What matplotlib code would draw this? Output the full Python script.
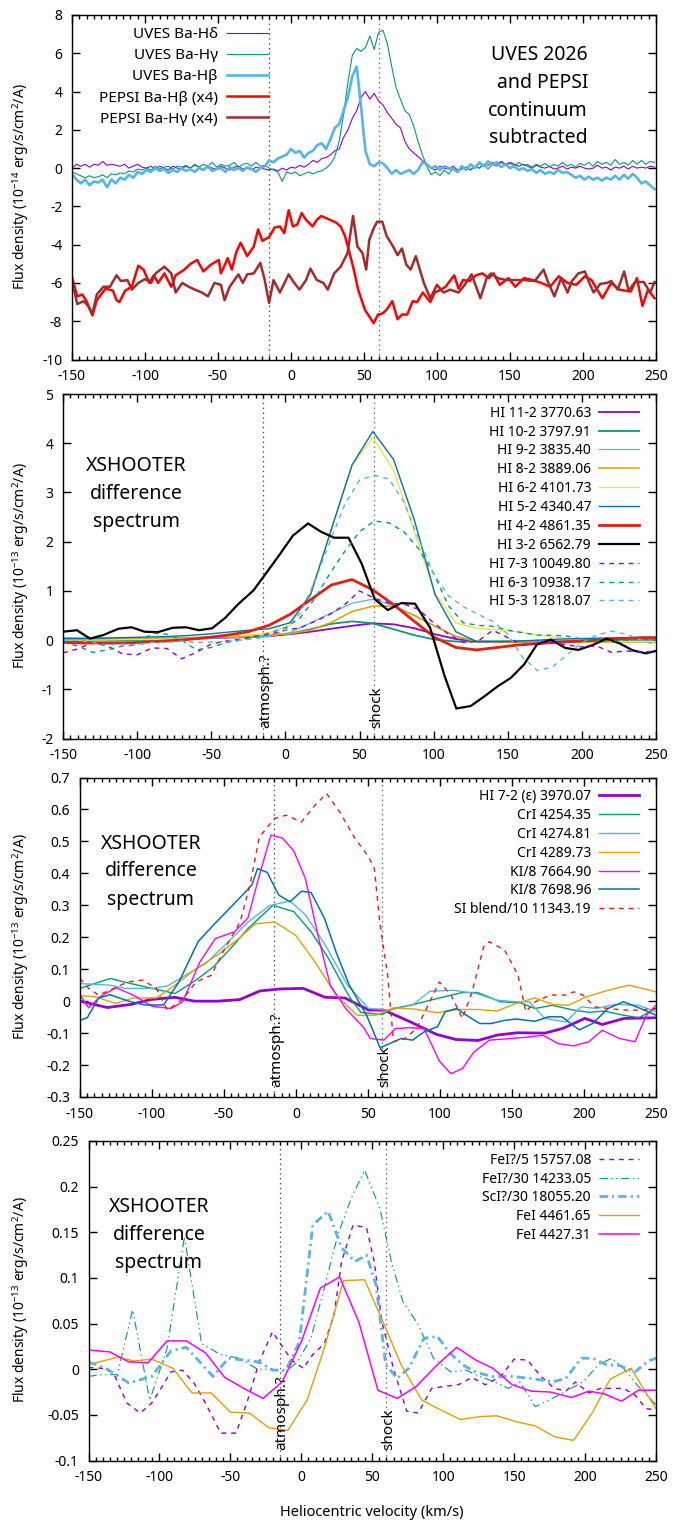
import numpy as np
import matplotlib
matplotlib.use('Agg')
import matplotlib.pyplot as plt
from matplotlib.lines import Line2D
from matplotlib.ticker import MultipleLocator, FuncFormatter

# ---------------- DATA ----------------
# Panel 1: UVES (3 km/s grid starting at -150) and PEPSI
UVES_V0, UVES_DV = -150, 3
UVES_HD = [0.0, 0.2, 0.1, 0.2, 0.05, 0.2, 0.15, 0.35, 0.15, 0.2,
           0.15, 0.1, 0.2, 0.0, 0.1, 0.2, 0.05, 0.0, 0.1, -0.05,
           0.1, 0.0, -0.1, 0.1, 0.0, -0.05, 0.1, 0.0, 0.15, 0.05,
           -0.1, 0.1, 0.0, -0.05, 0.1, 0.0, -0.1, 0.05, 0.1, -0.05,
           0.0, -0.1, 0.05, 0.0, -0.05, -0.1, -0.05, -0.15, 0.0, -0.1,
           0.05, 0.0, 0.15, 0.05, 0.2, 0.4, 0.3, 0.5, 0.55, 0.7,
           0.9, 1.0, 1.6, 2.0, 2.6, 3.0, 3.7, 4.0, 3.6, 3.9,
           3.5, 3.3, 2.9, 2.6, 2.3, 2.1, 1.4, 1.0, 0.8, 0.6,
           0.4, 0.2, 0.0, -0.1, 0.1, 0.0, -0.05, 0.1, -0.1, 0.0,
           0.05, -0.1, 0.1, 0.0, 0.2, 0.15, 0.3, 0.2, 0.35, 0.2,
           0.3, 0.2, 0.1, 0.2, 0.1, 0.0, 0.15, 0.05, 0.0, 0.1,
           -0.05, 0.0, 0.1, -0.05, 0.05, 0.0, 0.1, 0.0, -0.05, 0.0,
           0.15, 0.0, 0.05, -0.1, 0.05, 0.0, 0.1, -0.05, 0.1, 0.0,
           0.05, 0.0, 0.1, 0.05]
UVES_HG = [-0.2, -0.3, -0.4, -0.5, -0.4, -0.5, -0.45, -0.35, -0.5, -0.3,
           -0.35, -0.25, -0.3, -0.15, -0.2, -0.05, -0.1, 0.0, -0.1, 0.1,
           -0.05, 0.05, 0.1, -0.05, 0.1, 0.05, 0.15, 0.0, 0.2, 0.05,
           0.2, 0.1, 0.3, 0.05, 0.2, 0.1, 0.15, 0.3, 0.05, 0.2,
           0.25, 0.1, 0.3, 0.1, 0.15, 0.0, -0.1, -0.2, -0.7, -0.2,
           -0.3, -0.2, -0.4, -0.3, -0.2, -0.3, -0.2, -0.15, 0.0, 0.2,
           0.6, 1.4, 2.8, 4.5, 5.9, 6.25, 6.1, 6.3, 6.9, 6.2,
           7.1, 7.2, 6.5, 5.3, 4.2, 3.6, 3.0, 2.8, 2.2, 1.4,
           0.7, 0.1, -0.35, -0.2, -0.4, -0.1, -0.3, 0.0, -0.2, -0.05,
           0.05, -0.1, 0.1, 0.0, 0.2, -0.05, 0.2, 0.1, 0.3, 0.15,
           0.25, 0.1, 0.3, 0.15, 0.2, 0.05, 0.2, 0.1, 0.25, 0.05,
           0.2, 0.1, 0.3, 0.1, 0.2, 0.05, 0.25, 0.15, 0.3, 0.1,
           0.35, 0.2, 0.3, 0.15, 0.45, 0.2, 0.3, 0.15, 0.4, 0.2,
           0.4, 0.2, 0.35, 0.3]
UVES_HB = [-0.3, -0.6, -0.8, -0.6, -0.9, -0.7, -0.75, -0.6, -1.0, -0.6,
           -0.8, -0.5, -0.6, -0.35, -0.5, -0.2, -0.3, -0.1, -0.2, 0.0,
           -0.15, -0.05, -0.25, -0.1, -0.2, 0.0, -0.15, -0.05, -0.2, 0.0,
           -0.1, 0.1, -0.15, -0.05, 0.0, -0.2, 0.05, -0.1, 0.0, -0.15,
           0.05, -0.05, -0.2, 0.0, 0.1, 0.4, 0.3, 0.5, 0.6, 0.7,
           1.0, 0.8, 0.9, 0.55, 0.8, 0.9, 1.2, 1.3, 1.0, 1.5,
           2.1, 2.3, 3.0, 3.7, 4.8, 5.3, 3.2, 0.9, 0.2, 0.1,
           0.3, 0.25, 0.0, -0.3, -0.1, -0.3, -0.2, -0.1, -0.3, -0.1,
           0.3, 0.2, 0.0, 0.1, -0.1, 0.1, 0.0, -0.05, -0.2, 0.1,
           -0.1, 0.2, 0.0, 0.3, 0.1, 0.35, 0.2, 0.3, 0.05, 0.2,
           0.0, 0.1, -0.1, 0.0, -0.15, -0.05, -0.25, -0.1, -0.3, -0.2,
           -0.3, -0.1, -0.25, -0.2, -0.35, -0.5, -0.4, -0.6, -0.45, -0.6,
           -0.5, -0.65, -0.5, -0.6, -0.4, -0.6, -0.35, -0.55, -0.3, -0.5,
           -0.8, -0.7, -0.9, -1.1]

PEPSI_HB_V = [-150, -146.4, -143, -140.4, -136, -133, -127, -122, -119.5, -117.5,
              -113.6, -109, -104.6, -101, -97, -94, -91, -86.7, -82, -79,
              -73, -68.8, -64.3, -60, -55, -49.4, -48, -45, -43.4, -40.5,
              -37.5, -34.5, -30, -25.5, -22.5, -19.6, -15, -11.2, -7.6, -4.6,
              -1.6, 1.3, 4.3, 7.3, 10.3, 14.8, 17.7, 20.7, 23.7, 26.7,
              31, 34, 37, 40, 43, 46, 50.6, 56.6, 59.6, 62.5,
              65.5, 69.4, 73, 76, 79.6, 83.4, 86.4, 90.3, 95.4, 98.4,
              102.8, 105.8, 111.8, 114.8, 117.8, 122.3, 126.7, 131, 135.5, 138.7,
              143, 149, 153.6, 159.6, 165.5, 171.5, 177.5, 183.4, 189.4, 195.4,
              201.3, 205.8, 213.3, 219.3, 225, 232.7, 237, 240.7, 244.6, 249]
PEPSI_HB_F = [-5.7, -6.7, -6.6, -6.9, -7.7, -6.9, -6.3, -6.4, -6.9, -7.0,
              -6.4, -6.2, -5.1, -5.3, -6.0, -5.6, -6.0, -5.5, -6.2, -5.6,
              -5.3, -5.0, -4.8, -5.4, -5.05, -4.8, -5.5, -5.0, -4.7, -5.3,
              -4.4, -3.9, -4.6, -4.1, -3.2, -3.8, -3.6, -3.1, -3.05, -3.4,
              -2.2, -3.05, -2.95, -2.35, -2.7, -3.05, -2.7, -2.5, -2.6, -2.7,
              -2.85, -3.05, -3.55, -4.4, -5.3, -6.35, -7.4, -8.1, -7.65, -7.6,
              -7.4, -6.95, -7.9, -7.65, -7.65, -6.95, -7.0, -6.5, -7.0, -6.5,
              -6.35, -6.2, -5.6, -6.3, -5.85, -5.9, -5.6, -5.5, -5.75, -5.5,
              -6.1, -5.75, -6.2, -5.75, -5.85, -6.0, -6.2, -5.65, -6.0, -6.1,
              -5.65, -5.85, -6.8, -6.0, -6.35, -6.45, -5.75, -7.2, -6.35, -6.8]
PEPSI_HG_V = [-150, -146.4, -142, -139, -136, -133, -128.5, -124, -119.5, -116.5,
              -112, -109, -104.6, -100, -95.7, -92.7, -86.7, -82, -79, -74.5,
              -70, -65.8, -61, -56.9, -52.4, -48, -45.5, -42, -36, -33,
              -30, -25.5, -21, -18, -15, -12, -7.6, -1.6, 1.3, 5.8,
              10.3, 13.3, 17.7, 22.2, 25.2, 29.6, 34, 38.7, 42.5, 45.5,
              49, 51.5, 53.6, 56.6, 59, 62.5, 65.5, 70, 73, 76,
              79, 82, 85.5, 91, 95.4, 100, 104.5, 109, 114.8, 119,
              123.7, 129.7, 134, 137, 141.5, 147.5, 153.6, 159.6, 167, 173,
              176, 180.4, 185, 189.4, 192.4, 196.9, 201.3, 204.3, 207.3, 211.8,
              216.3, 219.3, 223.8, 228.2, 231.2, 235.7, 241.6, 246, 249]
PEPSI_HG_F = [-5.85, -7.1, -6.95, -7.2, -7.6, -6.6, -6.2, -6.2, -5.6, -5.9,
              -5.85, -6.35, -6.0, -5.8, -6.0, -5.5, -5.15, -5.5, -6.5, -6.0,
              -6.2, -6.35, -6.5, -6.7, -6.0, -6.1, -6.9, -6.2, -5.55, -6.0,
              -5.55, -5.5, -4.95, -5.85, -7.05, -5.85, -6.5, -5.55, -5.9, -6.35,
              -5.85, -5.25, -5.85, -6.0, -6.35, -5.5, -5.15, -4.45, -2.5, -4.1,
              -4.45, -5.3, -3.75, -3.15, -2.8, -2.8, -3.55, -4.1, -4.55, -4.2,
              -5.05, -5.3, -4.6, -6.0, -6.8, -6.1, -6.5, -6.35, -6.5, -6.1,
              -5.55, -6.8, -5.75, -5.5, -5.75, -5.85, -5.85, -5.85, -5.9, -5.3,
              -5.95, -6.7, -5.75, -6.5, -5.9, -5.5, -5.4, -6.0, -6.5, -6.05,
              -6.0, -5.9, -6.35, -5.4, -6.4, -5.95, -5.95, -6.5, -5.95]

# Panel 2: XSHOOTER hydrogen lines
UVB_V = [-151, -137, -123, -109, -95, -81, -67, -53, -39, -25, -11, 3, 17, 31, 45,
         59, 73, 87, 101, 115, 129, 143, 157, 171, 185, 199, 213, 227, 241, 255]
HI_11_2 = [0.02, 0.02, 0.02, 0.02, 0.02, 0.03, 0.03, 0.04, 0.05, 0.06, 0.08, 0.12, 0.17, 0.23, 0.29,
           0.34, 0.32, 0.24, 0.12, 0.02, -0.03, -0.04, -0.04, -0.03, -0.02, -0.02, -0.01, 0.0, 0.0, 0.0]
HI_10_2 = [-0.02, -0.02, -0.01, -0.01, 0.0, 0.01, 0.02, 0.04, 0.06, 0.07, 0.09, 0.13, 0.22, 0.33, 0.38,
           0.34, 0.22, 0.1, 0.01, -0.03, -0.03, -0.03, -0.03, -0.02, -0.02, -0.02, -0.02, -0.02, -0.02, -0.02]
HI_9_2 = [0.02, 0.02, 0.02, 0.02, 0.03, 0.03, 0.03, 0.04, 0.05, 0.06, 0.08, 0.15, 0.35, 0.55, 0.75,
          0.83, 0.7, 0.5, 0.28, 0.08, -0.02, -0.02, -0.02, -0.01, -0.01, 0.0, 0.0, 0.0, 0.0, 0.0]
HI_8_2 = [0.05, 0.04, 0.04, 0.04, 0.04, 0.04, 0.05, 0.06, 0.07, 0.08, 0.1, 0.13, 0.2, 0.36, 0.58,
          0.69, 0.69, 0.5, 0.28, 0.07, -0.03, -0.04, -0.04, -0.04, -0.04, -0.04, -0.04, -0.04, -0.04, -0.04]
HI_6_2 = [0.0, 0.0, 0.0, 0.01, 0.01, 0.02, 0.03, 0.05, 0.08, 0.1, 0.15, 0.3, 0.97, 2.25, 3.55,
          4.12, 3.45, 2.2, 0.95, 0.35, 0.24, 0.21, 0.17, 0.1, 0.05, 0.0, -0.02, -0.03, -0.03, -0.03]
HI_5_2 = [0.03, 0.03, 0.04, 0.05, 0.06, 0.07, 0.09, 0.12, 0.16, 0.2, 0.23, 0.35, 0.92, 2.25, 3.56,
          4.24, 3.67, 2.44, 0.92, 0.17, -0.03, -0.03, -0.02, 0.0, 0.02, 0.03, 0.04, 0.05, 0.05, 0.05]
HI_4_2 = [-0.05, -0.06, -0.06, -0.06, -0.04, -0.02, 0.01, 0.05, 0.1, 0.17, 0.3, 0.52, 0.82, 1.12, 1.23,
          1.02, 0.72, 0.38, 0.05, -0.15, -0.2, -0.15, -0.1, -0.07, -0.04, -0.02, 0.0, 0.03, 0.05, 0.05]
HI_3_2_V = [-150, -140.6, -131.8, -123, -112.6, -103.8, -95, -86.2, -75.9, -67,
            -58.2, -49.4, -40.6, -31.8, -21.5, -12, -3.8, 5, 15.3, 24.1,
            32.9, 42.6, 51.5, 60.3, 69.1, 77.9, 87.4, 97.6, 107.4, 115.3,
            125, 134.4, 143.2, 152, 160.9, 169.7, 179.1, 188.8, 197.6, 207.4,
            216.8, 225.6, 234.4, 243.2, 250]
HI_3_2 = [0.17, 0.2, 0.03, 0.1, 0.23, 0.26, 0.17, 0.16, 0.25, 0.26,
          0.2, 0.24, 0.45, 0.73, 1.01, 1.4, 1.74, 2.12, 2.37, 2.2,
          2.08, 2.08, 1.55, 0.83, 0.61, 0.75, 0.74, 0.25, -0.73, -1.39,
          -1.34, -1.14, -0.94, -0.77, -0.5, -0.09, 0.01, -0.16, -0.2, -0.1,
          0.03, -0.07, -0.21, -0.27, -0.22]
NIR_V = [-150, -140, -130, -120, -110, -100, -90, -80, -70, -60, -50, -40, -30, -20,
         -10, 0, 10, 20, 30, 40, 50, 60, 70, 80, 90, 100, 110, 120, 130, 140,
         150, 160, 170, 180, 190, 200, 210, 220, 230, 240, 250]
HI_7_3 = [-0.26, -0.18, -0.05, -0.12, -0.28, -0.3, -0.16, -0.17, -0.38, -0.25, -0.08, -0.02, 0.02, 0.08,
          0.12, 0.2, 0.25, 0.38, 0.52, 0.72, 1.0, 0.85, 0.75, 0.73, 0.62, 0.35, 0.12, -0.05, -0.02, 0.2,
          0.05, -0.1, -0.08, -0.05, -0.1, -0.14, -0.12, -0.25, -0.22, -0.25, -0.22]
HI_6_3 = [-0.05, -0.12, -0.25, -0.2, -0.12, -0.1, 0.14, 0.12, 0.0, -0.2, -0.15, -0.05, 0.0, 0.06,
          0.15, 0.25, 0.45, 0.85, 1.35, 1.8, 2.2, 2.42, 2.38, 2.2, 1.85, 1.35, 0.7, 0.35, 0.3, 0.28,
          0.2, 0.15, 0.1, 0.1, 0.08, 0.02, -0.02, -0.02, 0.0, 0.02, 0.0]
HI_5_3 = [0.0, 0.0, -0.05, -0.1, -0.08, -0.1, -0.05, -0.05, -0.02, -0.05, -0.04, -0.03, 0.0, 0.03,
          0.08, 0.2, 0.55, 1.2, 2.0, 2.75, 3.25, 3.35, 3.27, 2.8, 2.05, 1.35, 0.9, 0.68, 0.52, 0.38,
          0.12, -0.35, -0.62, -0.55, -0.3, -0.05, 0.1, 0.18, 0.12, 0.0, -0.1]

# Panel 3
HI72_V = [-150, -131, -114.5, -101, -84, -70.6, -54, -39, -25, -11.5, 5, 20.3, 34, 50.6, 61,
          79, 97.6, 111, 126.4, 140, 153.6, 173, 185.5, 200.6, 212.7, 228, 249]
HI72_F = [0.0, -0.02, -0.01, 0.005, 0.012, 0.0, 0.0, 0.005, 0.032, 0.038, 0.04, 0.012, 0.01, -0.028, -0.028,
          -0.064, -0.104, -0.12, -0.123, -0.106, -0.099, -0.1, -0.085, -0.054, -0.073, -0.054, -0.052]
CR4254_V = [-150, -129, -114.6, -100, -84, -69.4, -57.4, -45.4, -33.4, -16, -1.5, 10.5, 22.5, 37, 45,
            59.7, 67.7, 82, 99.6, 115.6, 126.2, 142, 155.5, 166, 178, 192.8, 203.4, 214, 227.4, 238, 250]
CR4254_F = [0.04, 0.071, 0.055, 0.04, 0.024, 0.066, 0.107, 0.165, 0.227, 0.3, 0.28, 0.217, 0.134, 0.014, -0.035,
            -0.042, -0.023, -0.01, 0.01, 0.027, 0.027, -0.002, -0.005, -0.023, -0.013, -0.028, -0.035, -0.031,
            -0.044, -0.052, -0.023]
CR4275_V = [-150, -129, -118.5, -100, -89, -76, -62.7, -49.4, -33.4, -18.8, -4.2, 6.5, 19.8, 35.8, 50.4,
            65, 81, 93, 109, 125, 139.6, 152.9, 162, 172.8, 187.5, 198, 208.7, 222, 238, 250]
CR4275_F = [0.055, 0.05, 0.04, 0.04, 0.048, 0.083, 0.118, 0.175, 0.247, 0.298, 0.314, 0.27, 0.18, 0.05, -0.023,
            -0.028, -0.012, 0.031, 0.034, 0.024, 0.003, -0.002, -0.002, -0.054, -0.065, -0.018, -0.023, -0.01,
            -0.013, -0.033]
CR4290_V = [-150, -140, -125, -113, -97, -84, -70.7, -54.7, -41.4, -28, -14.8, -0.2, 13.2, 27.8, 42.4,
            55.7, 67.7, 82.4, 98.3, 113, 126.3, 139.6, 152.9, 166, 178, 189, 202, 216.7, 231.3, 250]
CR4290_F = [0.017, 0.014, -0.007, 0.01, 0.01, 0.05, 0.097, 0.144, 0.19, 0.242, 0.248, 0.206, 0.123, 0.019, -0.044,
            -0.044, -0.021, -0.025, -0.036, -0.026, -0.026, -0.031, -0.007, 0.01, -0.01, -0.013, 0.014, 0.034,
            0.05, 0.029]
K7665_V = [-150, -144, -136, -125, -113, -100, -86.7, -78.7, -66.7, -56, -42.7, -33.4, -25.4, -17.4, -9.5,
           -1.5, 6.5, 15.8, 23.8, 34.5, 46.5, 51.7, 61, 69, 78.4, 89, 99.6, 107.6, 115.6, 123.6,
           134.3, 148.9, 162, 171.5, 182.2, 192.8, 203.4, 212.7, 224.7, 235.4, 243.4, 250]
K7665_F = [0.019, -0.021, 0.014, 0.042, 0.019, -0.016, -0.023, -0.002, 0.123, 0.196, 0.217, 0.26, 0.394, 0.52, 0.511,
           0.47, 0.384, 0.196, 0.05, -0.023, -0.08, -0.117, -0.122, -0.086, -0.083, -0.086, -0.188, -0.227, -0.211,
           -0.159, -0.122, -0.117, -0.112, -0.107, -0.133, -0.14, -0.127, -0.091, -0.117, -0.127, -0.044, -0.013]
K7699_V = [-150, -145, -137, -129, -117, -105, -92, -81.3, -68, -57.4, -44, -30.7, -26.7, -20, -12,
           -4.2, 3.8, 10.5, 19.8, 27.8, 37, 49, 58.4, 62.4, 73, 81, 89, 98.3, 103.6, 111.6,
           118.3, 127.6, 135.6, 144.9, 152.9, 166, 175.4, 184.7, 196.7, 206, 216.7, 227.4, 239.3, 250]
K7699_F = [-0.06, -0.052, 0.01, 0.02, 0.001, -0.012, -0.012, 0.06, 0.186, 0.238, 0.3, 0.363, 0.415, 0.403, 0.332,
           0.311, 0.344, 0.34, 0.259, 0.154, 0.05, -0.044, -0.146, -0.138, -0.117, -0.122, -0.096, -0.08, -0.033,
           -0.023, -0.044, -0.07, -0.07, -0.06, -0.056, -0.063, -0.049, -0.049, -0.09, -0.07, -0.023, -0.002,
           -0.023, -0.044]
SI_V = [-150, -144, -137, -126.5, -117, -106.6, -97, -89.3, -78.7, -69.4, -58.8, -49.4, -38.8, -32, -25.4,
        -14.8, -6.8, 3.8, 13.2, 21.2, 30.4, 41, 50.4, 54.4, 58.4, 63.7, 67.7, 75.7, 83.7, 91.7,
        99.6, 107.6, 115.6, 122.3, 130.3, 134.2, 144.9, 154.2, 159.6, 166, 176.8, 187.5, 192.8, 199.4, 207.4,
        216.7, 227.4, 238, 250]
SI_F = [0.071, 0.04, 0.019, 0.04, 0.06, 0.066, 0.04, -0.028, 0.006, 0.06, 0.081, 0.165, 0.248, 0.363, 0.514,
        0.572, 0.582, 0.561, 0.613, 0.65, 0.592, 0.509, 0.452, 0.415, 0.238, 0.081, -0.127, -0.117, -0.086, -0.013,
        0.06, 0.019, -0.054, 0.029, 0.17, 0.186, 0.16, 0.081, -0.033, -0.002, 0.019, 0.019, 0.029, 0.019, -0.018,
        -0.023, -0.028, -0.028, -0.023]

# Panel 4
FE15757_V = [-150, -140.5, -132.4, -123, -113.5, -105.4, -97.3, -92, -83.8, -75.7, -67.6, -56.8, -46, -38, -29.7,
             -20.3, -13.5, -6.8, 1.4, 8.1, 16.2, 23, 28.4, 36.5, 46, 51.4, 56.8, 64.9, 74.3, 82.4,
             91.9, 100, 110.8, 120.3, 129.7, 140.5, 150, 159.5, 168.9, 178.4, 186.5, 193.2, 202.7, 210.8, 218.9,
             227, 235, 243, 250]
FE15757_F = [0.002, 0.001, -0.004, -0.037, -0.048, -0.037, -0.017, -0.003, -0.001, -0.015, -0.037, -0.07, -0.07,
             -0.035, 0.008, 0.041, 0.025, 0.01, 0.001, 0.016, 0.028, 0.059, 0.118, 0.158, 0.155, 0.118, 0.052, 0.001,
             -0.046, -0.048, -0.021, -0.019, -0.017, -0.009, -0.017, -0.008, 0.011, 0.01, -0.008, -0.021, -0.024,
             -0.014, -0.026, -0.021, -0.021, -0.021, -0.028, -0.043, -0.045]
FE14233_V = [-150, -142, -129.7, -118.9, -106.8, -94.6, -82.4, -70.3, -56.8, -43.2, -31.1, -20.3, -10.8, -2.7, 6.8,
             16.2, 25.7, 35.1, 44.6, 55.4, 63.5, 71.6, 82.4, 93.2, 105.4, 116.2, 125.7, 136.5, 146, 154.1,
             164.9, 177, 186.5, 198.6, 209.5, 218.9, 227, 236.5, 250]
FE14233_F = [-0.008, -0.006, -0.006, 0.065, -0.034, 0.023, 0.145, 0.028, 0.016, 0.012, 0.0, 0.0, -0.003, 0.008, 0.034,
             0.089, 0.147, 0.187, 0.218, 0.176, 0.118, 0.074, 0.049, 0.012, -0.003, -0.001, -0.008, -0.014, -0.021,
             -0.014, -0.041, -0.032, -0.024, -0.014, 0.005, 0.012, 0.001, -0.017, -0.039]
SC18055_V = [-150, -137.8, -121.6, -105.4, -92, -81, -71.6, -62.2, -51.4, -40.5, -29.7, -20.3, -10.8, -1.4, 8.1,
             18.9, 28.4, 37.8, 46, 52.7, 59.5, 67.6, 75.7, 86.5, 96, 104, 113.5, 124.3, 135.1, 148.6,
             162, 177, 186.5, 197.3, 205.4, 214.9, 224.3, 235.1, 244.6, 250]
SC18055_F = [0.008, 0.001, -0.015, -0.008, 0.02, 0.024, 0.008, -0.008, 0.012, 0.01, 0.008, -0.001, -0.001, 0.03, 0.158,
             0.173, 0.133, 0.118, 0.125, 0.092, 0.005, -0.01, 0.001, 0.034, 0.036, 0.019, 0.005, -0.004, -0.008,
             -0.008, -0.01, -0.014, -0.01, 0.012, 0.012, 0.005, 0.004, -0.003, 0.009, 0.012]
FE4462_V = [-150, -129.7, -117.6, -105.4, -90.5, -77, -63.5, -50, -36.5, -23, -9.5, 4, 16.2, 29.7, 44.6,
            59.5, 70.3, 85, 100, 112, 125.7, 137.8, 152.7, 164.9, 178.4, 191.9, 205.4, 217.6, 232.4, 244.6, 250]
FE4462_F = [0.005, 0.013, 0.009, 0.011, 0.001, -0.026, -0.026, -0.047, -0.048, -0.064, -0.067, -0.034, 0.023, 0.097,
            0.098, 0.045, 0.005, -0.034, -0.046, -0.055, -0.052, -0.051, -0.058, -0.062, -0.074, -0.078, -0.047,
            -0.011, 0.001, -0.03, -0.043]
FE4427_V = [-150, -135, -121.6, -108, -94.6, -81, -67.6, -54, -40.5, -27, -13.5, 0, 13.5, 27, 40.5,
            54, 67.6, 81, 94.6, 109.5, 123, 135, 148.6, 162, 175.7, 190.5, 202.7, 213.5, 225.7, 237.6, 250]
FE4427_F = [0.021, 0.019, 0.008, 0.007, 0.031, 0.031, 0.018, -0.009, -0.021, -0.032, -0.014, 0.03, 0.089, 0.101,
            0.052, -0.023, -0.032, -0.019, 0.003, 0.024, 0.01, 0.001, -0.017, -0.024, -0.025, -0.031, -0.024,
            -0.027, -0.035, -0.023, -0.023]

V_ATMOS, V_SHOCK = -15, 60

# ---------------- STYLE / LAYOUT ----------------
plt.rcParams['font.family'] = ['Noto Sans', 'DejaVu Sans']
plt.rcParams['mathtext.fontset'] = 'custom'
plt.rcParams['mathtext.rm'] = 'Noto Sans'
plt.rcParams['mathtext.it'] = 'Noto Sans:italic'
plt.rcParams['mathtext.bf'] = 'Noto Sans:bold'
plt.rcParams['lines.scale_dashes'] = False

W, H = 684, 1522
fig = plt.figure(figsize=(W / 100, H / 100), dpi=100)
fig.patch.set_facecolor('white')


def fy(py):
    return 1 - py / H


def make_axes(l, r, t, b):
    return fig.add_axes([l / W, 1 - b / H, (r - l) / W, (b - t) / H])


fmt = FuncFormatter(lambda v, p: '0' if abs(v) < 1e-9 else f'{v:g}')


def style_axes(ax, ylim, yticks):
    ax.set_xlim(-150, 250)
    ax.set_ylim(*ylim)
    ax.set_xticks(np.arange(-150, 251, 50))
    ax.xaxis.set_minor_locator(MultipleLocator(5))
    ax.set_yticks(yticks)
    ax.xaxis.set_major_formatter(fmt)
    ax.yaxis.set_major_formatter(fmt)
    ax.tick_params(which='both', direction='in', top=True, right=True, labelsize=10, width=1.0)
    ax.tick_params(which='major', length=6, pad=7)
    ax.tick_params(which='minor', length=3)
    ax.tick_params(axis='y', which='minor', left=False, right=False)
    for s in ax.spines.values():
        s.set_linewidth(1.0)
    ax.axvline(V_ATMOS, color='#444444', lw=0.9, ls=(0, (1, 2.5)), zorder=1)
    ax.axvline(V_SHOCK, color='#666666', lw=0.9, ls=(0, (1, 2.5)), zorder=1)


def draw_legend(entries, text_right, x0, x1, rows, fs, dbase):
    for (label, kw), y in zip(entries, rows):
        fig.text(text_right / W, fy(y + dbase), label, ha='right', va='baseline', fontsize=fs)
        fig.add_artist(Line2D([x0 / W, x1 / W], [fy(y), fy(y)], transform=fig.transFigure, **kw))


def marker_labels(ax, bottom_px, top_px):
    off = 10 / (bottom_px - top_px)
    tr = ax.get_xaxis_transform()
    ax.text(V_ATMOS + 1.5, off, 'atmosph.?', rotation=90, ha='center', va='bottom', fontsize=11, transform=tr)
    ax.text(V_SHOCK + 1.5, off, 'shock', rotation=90, ha='center', va='bottom', fontsize=11, transform=tr)


def ylabel(center_px, exp):
    fig.text(21 / W, fy(center_px), 'Flux density (10$^{' + exp + '}$ erg/s/cm$^2$/A)',
             rotation=90, ha='center', va='center', fontsize=10)


DASH = (0, (3.5, 3.5))

# ---------------- PANEL 1 ----------------
ax1 = make_axes(72, 656, 15, 359.5)
uv = UVES_V0 + UVES_DV * np.arange(len(UVES_HD))
p1 = [
    ('UVES Ba-H\u03b4', uv, UVES_HD, dict(color='#9400d3', lw=0.8)),
    ('UVES Ba-H\u03b3', uv, UVES_HG, dict(color='#009e73', lw=0.8)),
    ('UVES Ba-H\u03b2', uv, UVES_HB, dict(color='#56b4e9', lw=1.9)),
    ('PEPSI Ba-H\u03b2 (x4)', PEPSI_HB_V, PEPSI_HB_F, dict(color='#ff0000', lw=1.8)),
    ('PEPSI Ba-H\u03b3 (x4)', PEPSI_HG_V, PEPSI_HG_F, dict(color='#a52a2a', lw=1.8)),
]
for lab, x, y, kw in p1:
    ax1.plot(x, y, **kw)
style_axes(ax1, (-10, 8), np.arange(-10, 9, 2))
draw_legend([(l, kw) for l, _, _, kw in p1], 218, 227, 268, [33, 54, 75, 96, 117], 11, 5.5)
for txt, yc in zip(['UVES 2026', 'and PEPSI', 'continuum', 'subtracted'], [53.3, 81.7, 109.3, 136.7]):
    fig.text(588 / W, fy(yc + 6.5), txt, ha='right', va='baseline', fontsize=14)
ylabel(187, '-14')

# ---------------- PANEL 2 ----------------
ax2 = make_axes(63, 656, 394, 738.5)
p2 = [
    ('HI 11-2 3770.63', UVB_V, HI_11_2, dict(color='#9400d3', lw=1.3)),
    ('HI 10-2 3797.91', UVB_V, HI_10_2, dict(color='#009e73', lw=1.3)),
    ('HI 9-2 3835.40', UVB_V, HI_9_2, dict(color='#56b4e9', lw=0.9)),
    ('HI 8-2 3889.06', UVB_V, HI_8_2, dict(color='#e69f00', lw=1.1)),
    ('HI 6-2 4101.73', UVB_V, HI_6_2, dict(color='#f0e442', lw=1.0)),
    ('HI 5-2 4340.47', UVB_V, HI_5_2, dict(color='#0072b2', lw=1.0)),
    ('HI 4-2 4861.35', UVB_V, HI_4_2, dict(color='#e51e10', lw=2.0)),
    ('HI 3-2 6562.79', HI_3_2_V, HI_3_2, dict(color='black', lw=1.6)),
    ('HI 7-3 10049.80', NIR_V, HI_7_3, dict(color='#9400d3', lw=1.0, ls=DASH)),
    ('HI 6-3 10938.17', NIR_V, HI_6_3, dict(color='#009e73', lw=1.0, ls=DASH)),
    ('HI 5-3 12818.07', NIR_V, HI_5_3, dict(color='#56b4e9', lw=1.0, ls=DASH)),
]
for lab, x, y, kw in p2:
    ax2.plot(x, y, **kw)
style_axes(ax2, (-2, 5), np.arange(-2, 6, 1))
draw_legend([(l, kw) for l, _, _, kw in p2], 591, 599, 639,
            [411.7, 430.7, 449.3, 468.3, 487.3, 506, 525, 544, 562.7, 581.7, 600], 10, 5)
for txt, yc in zip(['XSHOOTER', 'difference', 'spectrum'], [464.3, 491.7, 520]):
    fig.text(136 / W, fy(yc + 7), txt, ha='center', va='baseline', fontsize=14)
marker_labels(ax2, 738.5, 394)
ylabel(566, '-13')

# ---------------- PANEL 3 ----------------
ax3 = make_axes(80, 656, 777.5, 1097)
p3 = [
    ('HI 7-2 (\u03b5) 3970.07', HI72_V, HI72_F, dict(color='#9400d3', lw=2.0)),
    ('CrI 4254.35', CR4254_V, CR4254_F, dict(color='#009e73', lw=1.0)),
    ('CrI 4274.81', CR4275_V, CR4275_F, dict(color='#56b4e9', lw=1.0)),
    ('CrI 4289.73', CR4290_V, CR4290_F, dict(color='#e69f00', lw=1.0)),
    ('KI/8 7664.90', K7665_V, K7665_F, dict(color='#ff00ff', lw=1.0)),
    ('KI/8 7698.96', K7699_V, K7699_F, dict(color='#0072b2', lw=1.1)),
    ('SI blend/10 11343.19', SI_V, SI_F, dict(color='#e51e10', lw=1.0, ls=DASH)),
]
for lab, x, y, kw in p3:
    ax3.plot(x, y, **kw)
style_axes(ax3, (-0.3, 0.7), np.round(np.arange(-0.3, 0.71, 0.1), 2))
draw_legend([(l, kw) for l, _, _, kw in p3], 591, 599, 639,
            [795, 814.3, 833.3, 852.3, 871, 889.3, 908.3], 10, 5)
for txt, yc in zip(['XSHOOTER', 'difference', 'spectrum'], [842.3, 869.3, 897.7]):
    fig.text(151 / W, fy(yc + 7), txt, ha='center', va='baseline', fontsize=14)
marker_labels(ax3, 1097, 777.5)
ylabel(937, '-13')

# ---------------- PANEL 4 ----------------
ax4 = make_axes(88.5, 656, 1141, 1460.5)
p4 = [
    ('FeI?/5 15757.08', FE15757_V, FE15757_F, dict(color='#9400d3', lw=1.0, ls=DASH)),
    ('FeI?/30 14233.05', FE14233_V, FE14233_F, dict(color='#009e73', lw=0.8, ls=(0, (6, 2.5, 1, 2.5, 1, 2.5)))),
    ('ScI?/30 18055.20', SC18055_V, SC18055_F, dict(color='#56b4e9', lw=2.0, ls=(0, (6, 3, 1.5, 3)))),
    ('FeI 4461.65', FE4462_V, FE4462_F, dict(color='#e69f00', lw=1.0)),
    ('FeI 4427.31', FE4427_V, FE4427_F, dict(color='#ff00ff', lw=1.1)),
]
for lab, x, y, kw in p4:
    ax4.plot(x, y, **kw)
style_axes(ax4, (-0.1, 0.25), np.round(np.arange(-0.1, 0.251, 0.05), 2))
draw_legend([(l, kw) for l, _, _, kw in p4], 591, 599, 639,
            [1159, 1177.7, 1196, 1215, 1234.3], 10, 5)
for txt, yc in zip(['XSHOOTER', 'difference', 'spectrum'], [1205, 1233.3, 1260.7]):
    fig.text(159 / W, fy(yc + 7), txt, ha='center', va='baseline', fontsize=14)
marker_labels(ax4, 1460.5, 1141)
ylabel(1300, '-13')

fig.text(372 / W, fy(1513), 'Heliocentric velocity (km/s)', ha='center', va='center', fontsize=10.5)

fig.savefig('out.png', dpi=100, facecolor='white')
